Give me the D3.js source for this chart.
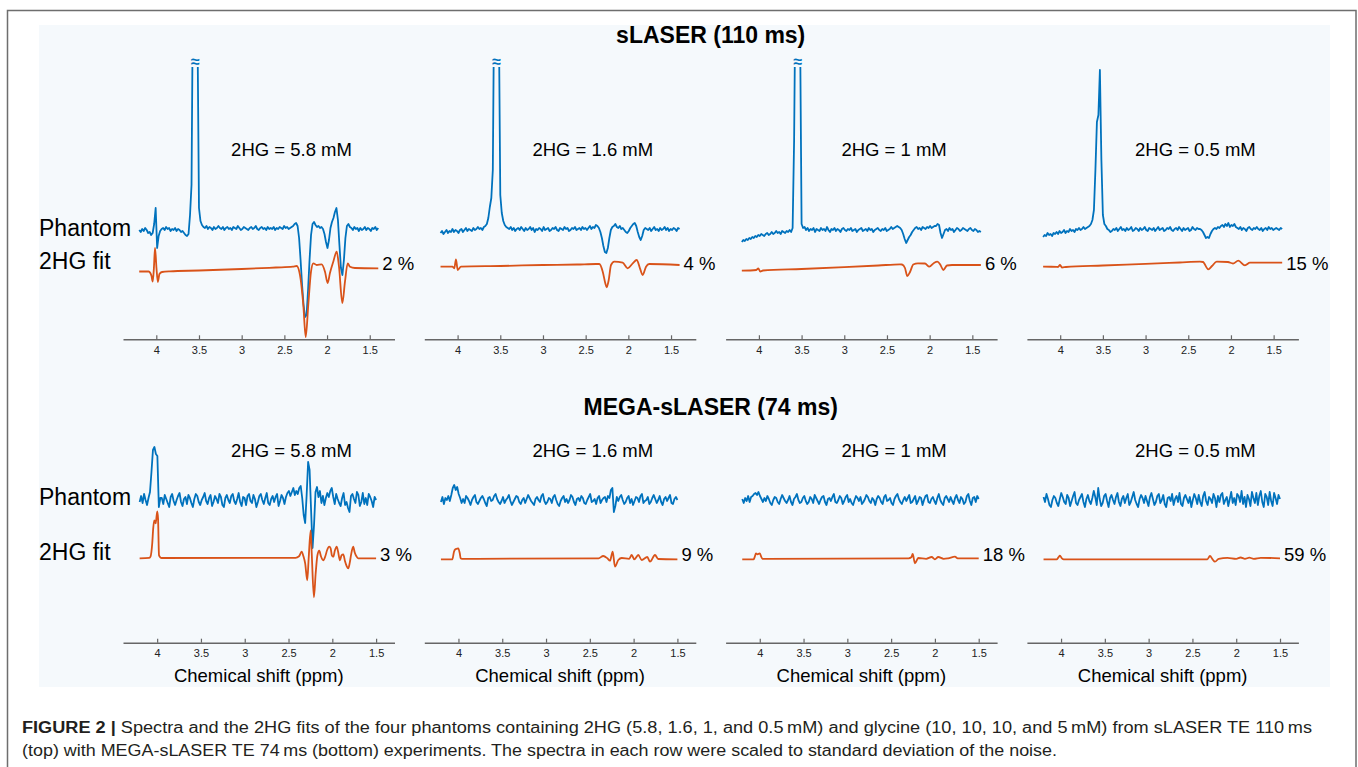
<!DOCTYPE html>
<html><head><meta charset="utf-8">
<script src="https://cdn.jsdelivr.net/npm/d3@7"></script>
<style>
html,body{margin:0;padding:0;background:#fff;}
svg{display:block;font-family:"Liberation Sans",Arial,Helvetica,sans-serif;}
</style></head><body>
<svg id="chart" width="1358" height="767"></svg>
<script>
// ---------------- DATA ----------------
const rowTitles = ["sLASER (110 ms)", "MEGA-sLASER (74 ms)"];
const concLabels = ["2HG = 5.8 mM", "2HG = 1.6 mM", "2HG = 1 mM", "2HG = 0.5 mM"];
const crlbTop = ["2 %", "4 %", "6 %", "15 %"];
const crlbBottom = ["3 %", "9 %", "18 %", "59 %"];
const tickValues = [4, 3.5, 3, 2.5, 2, 1.5];
const traceLabels = ["Phantom", "2HG fit"];
const xTitle = "Chemical shift (ppm)";
const captionBold = "FIGURE 2 |";
const captionLine1 = " Spectra and the 2HG fits of the four phantoms containing 2HG (5.8, 1.6, 1, and 0.5\u2009mM) and glycine (10, 10, 10, and 5\u2009mM) from sLASER TE 110\u2009ms";
const captionLine2 = "(top) with MEGA-sLASER TE 74\u2009ms (bottom) experiments. The spectra in each row were scaled to standard deviation of the noise.";

// sampled ppm range of the spectra (first, last sample)
const ppmRangeTop = [4.2, 1.4];
const ppmRangeBottom = [4.2, 1.5];

// Phantom spectra (a.u., evenly sampled over the ppm range)
const phantomTop1 = [0,-2,1,-1,2,0,-3,-2,-5,-3, 6,22,-18,-6,-1,1,
 2,0,3,1,2,-1,1,0,2,-1,1,0,-2,-1,-3,-5,-6,-4,
 15,45,250,320,300,200,22,9,5,
 3,2,4,1,3,2,0,3,1,2, 4,2,1,3,0,2,3,1,2,0, 3,2,1,4,2,0,1,3,2,1, 0,2,3,1,2,4,1,0,2,3, 1,2,0,3,1,2,1,3,0,2, 1,3,2,1,4,2,3,1,2,3, 4,
 6,7,4,-8,-30,-55,-75,-87,-85,-60, -30,-5,6,8,5,3,4,2,3,1, -4,-12,-18,-10,2,8,12,18,22,10, -15,-38,-45,-30,-8,4,6,3,
 2,0,3,1,2,-1,2,0,1,3,0,2,1,-1,2,1,3,0,2];
const phantomTop2 = [-3,-1,-4,-2,0,-3,-1,-2,1,-2, 0,-1,-3,0,1,-2,0,2,-1,1, 0,-1,2,0,1,3,1,2,0,3,
 4,6,12,23,32,60,250,320,300,220,35,17,9,5,3,2,
 1,3,0,2,-1,1,2,0,3,1, -1,2,0,1,3,0,2,-2,1,0, 2,1,-1,3,0,1,2,-1,0,2, 1,3,0,-1,2,1,0,3,1,2, -1,0,2,1,3,0,1,2,0,3, 1,2,0,2,4,1,3,2,
 5,4,2,-2,-8,-16,-22,-23,-18,-8, 0,3,4,6,3,2,4,1,2,0, -2,-3,-1,2,4,6,7,4,-2,-7, -10,-6,0,2,
 1,0,2,-1,1,3,0,1,-1,2,0,1,3,0,2,-1,1,0,2,1,-1,2,1];
const phantomTop3 = [-12,-10,-11,-9,-10,-8,-9,-7,-8,-6, -7,-5,-6,-4,-5,-6,-4,-3,-5,-4, -2,-4,-3,-1,-3,-2,-4,-1,-2,-3, -1,-2,0,-2,
 2,90,260,330,310,200,6,2,3,
 0,2,-1,1,0,2,-2,1,0,-1, 2,0,1,-1,3,0,-2,1,0,2, -1,1,0,-2,1,2,0,-1,1,0, 2,-1,0,1,-2,0,1,2,-1,0, 1,-1,2,0,1,-2,0,1,2,0, -1,1,0,2,-1,0,1,3,1,2, 3,4,3,
 2,0,-4,-9,-13,-10,-7,-5,-2,0, 2,3,1,2,0,3,2,1,3,2, 4,2,3,4,4,6,5,-3,-8,-4, 0,
 1,-1,2,0,1,-2,0,2,1,-1, 0,2,1,0,-1,1,2,0,-1,1, 0,-2,-1,-2];
const phantomTop4 = [-7,-5,-6,-3,-5,-4,-6,-3,-4,-2, -4,-1,-3,-2,0,-3,-1,-2,1,-1, 0,-2,1,0,2,0,1,3,1,2, 3,
 4,6,10,20,60,108,115,160,70,15,6,4,1,0,-2,
 -1,1,0,2,-1,1,3,0,1,-1, 2,0,1,3,-1,0,2,1,-1,2, 0,1,3,0,-1,2,1,0,2,-1, 1,3,0,1,2,-1,0,2,1,3, 0,-1,1,2,0,3,1,-1,2,0, 1,2,-1,0,3,1,0,2,1,
 1,0,-2,-5,-8,-7,-8,-4,-1,1,
 2,1,3,2,4,5,3,6,4,7,3,5,4,6,3,
 2,1,3,0,2,1,-1,2,3,1, 0,2,1,3,1,0,2,-1,1,2, 0,3,1,2,0,1,2,1,0,2, 1];
const phantomBottom1 = [-2,4,-3,6,0,-5,2,
 8,28,50,53,46,44,-7,2,
 2,-4,5,1,-3,-7,3,6,-1,-5, 0,4,7,-2,-6,1,3,-4,5,2, -3,-7,1,6,4,-2,-5,0,3,7, -1,-4,2,5,-6,-2,4,1,-3,6, 3,-5,-7,2,5,0,-3,4,6,-1,
 -4,1,7,-2,-6,3,2,-5,4,6, -1,-3,5,1,-7,-2,4,6,0,-4, 2,7,-3,-5,1,4,-2,3,6,-6, -1,5,2,-4,3,7,9,4,8,12,
 5,9,6,12,14,2,-15,-23,5,38,30,-10,-48,-25,8,13,3,9,-3,
 4,-5,2,7,3,9,12,3,-4,6, 1,-3,-6,2,7,-5,-2,-8,-12,4, 6,1,-3,8,5,-6,-2,7,-4,2, -5,6,3,-1,-7,3,0];
const phantomBottom2 = [-2,3,-4,2,0,4,-1,
 5,12,15,10,13,6,2,-3,
 1,-3,4,2,-1,-5,0,3,5,-2, -4,-1,2,4,1,-3,-6,2,3,-1, 0,4,6,1,-2,-4,-1,3,-3,0, 2,5,-1,-5,-2,1,4,3,-2,-4, 0,2,-3,1,5,2,-1,-3,-5,1,
 3,0,-2,4,6,-1,-4,-2,2,1, -3,3,5,0,-4,-6,-1,2,4,-2, 1,-3,0,5,3,-2,-5,1,2,-1, 4,2,-3,-4,0,3,6,-2,-1,1, -4,2,4,-3,0,2,
 3,-2,4,2,10,12,-12,-6,3,
 -1,3,5,0,-4,-2,2,4,-3,1, -5,-1,3,2,-2,4,6,-3,-1,0, 3,-4,-2,2,5,1,-3,0,4,-2, -5,1,3,-1,2,5,-3,-4,1,3, 0];
const phantomBottom3 = [1,-3,2,-1,4,-2,3,
 4,6,7,5,8,4,1,-2,
 2,-1,4,1,-3,-5,0,3,2,-2, -4,1,5,2,-1,-3,0,4,-2,-5, 1,3,6,0,-3,-2,2,4,-1,-4, -2,3,1,-3,5,2,-1,-4,0,3, 4,-2,-5,1,2,-1,3,6,-2,-3,
 0,4,2,-4,-1,3,5,-2,1,-3, -5,0,4,2,-1,3,-4,-2,1,5, 3,-1,-3,2,0,-5,1,4,2,-2, -4,3,5,-1,0,2,-3,-5,1,4, 6,1,-2,-4,0,3,-1,2,5,-3,
 -2,1,4,-4,-1,3,2,-5,0,4, 5,-2,-3,1,3,-1,-4,2,6,0, -3,-5,2,4,1,-2,3,-1,-4,2, 5,0,-3,3,1,-4,-2,4,6,-1, -5,2,3,-2,4,1];
const phantomBottom4 = [3,-2,6,1,-5,-7,0,4,2,-3, -6,1,7,3,-2,-4,5,2,-6,-1, 4,8,-3,-5,0,3,6,-2,-7,1, 5,-1,-4,2,9,3,-5,12,1,-6,
 -3,4,6,-1,-7,2,5,0,-4,3, 7,-2,-6,1,4,-3,2,6,-5,-2, 3,8,0,-4,-7,1,5,2,-3,4, -1,-6,3,7,1,-5,-2,4,6,-3,
 0,5,-4,-7,2,3,-1,6,-5,1, 4,-2,7,-4,-6,2,5,1,-3,3, -7,0,6,2,-4,5,-2,-6,4,8, -1,-5,3,1,-3,6,2,-7,4,-2,
 5,7,-4,0,3,-6,1,8,-3,2, -5,6,4,-2,9,-4,3,-7,5,1, -6,8,2,-3,7,-5,4,9,-2,-7, 6,3,-5,8,-1,-6,7,2,-4,5, 1];

// 2HG fits: [ppm, a.u.]
const fitTop1 = [[4.2,-3.5],[4.09,-3.5],[4.07,-5],[4.056,-8],[4.042,-13.5],[4.028,0],[4.015,20],[3.998,0],[3.982,-14],[3.963,-6],[3.933,-4],[3.84,-3.3],[3.5,-2.5],[3.0,-1],[2.6,0.5],[2.4,1.3],[2.356,2],[2.317,-7],[2.278,-37],[2.25,-69],[2.22,-37],[2.188,-3.7],[2.161,4.7],[2.121,3],[2.063,3.7],[2.024,-3.7],[1.993,-15],[1.966,-5],[1.927,6.3],[1.887,16.3],[1.86,1.3],[1.821,-35],[1.79,-13.7],[1.758,4.7],[1.731,1.3],[1.673,0],[1.4,-0.3]];
const fitTop2 = [[4.2,1.3],[4.06,1.3],[4.039,-0.3],[4.019,8.7],[3.999,-2],[3.96,1.3],[3.5,2],[3.0,3],[2.6,3.5],[2.379,4],[2.34,4],[2.3,-3.7],[2.27,-15.3],[2.254,-19.3],[2.23,-12],[2.203,3],[2.165,6.3],[2.066,5.3],[2.008,-0.3],[1.949,4.7],[1.902,8],[1.864,-0.3],[1.832,-7],[1.793,1.3],[1.755,4],[1.4,3]];
const fitTop3 = [[4.2,-2.7],[4.03,-2],[4.007,-0.3],[3.984,-3.7],[3.952,-2.5],[3.5,-1],[3.0,0.8],[2.6,2.5],[2.347,3.7],[2.324,3.5],[2.289,0],[2.262,-8],[2.23,-4],[2.192,3.5],[2.137,4.7],[2.055,4.5],[2.004,1.3],[1.949,5],[1.91,6.3],[1.873,3],[1.84,-2],[1.797,2.5],[1.738,3],[1.4,3]];
const fitTop4 = [[4.2,1.3],[4.04,1.2],[4.026,1],[4.002,3],[3.979,0.5],[3.932,1],[3.5,2.5],[3.0,4.2],[2.6,5.5],[2.363,6.3],[2.328,6],[2.266,-1.3],[2.222,2],[2.167,6.3],[2.035,6],[1.976,4.5],[1.914,7.3],[1.836,2.7],[1.777,5.3],[1.4,5.3]];
const fitBottom1 = [[4.2,0],[4.09,0.5],[4.075,2],[4.056,15],[4.045,30],[4.033,38],[4.017,35],[3.999,47],[3.99,40],[3.979,3],[3.965,1],[3.949,0.3],[2.42,0.5],[2.38,2],[2.35,6.6],[2.33,2],[2.31,-5],[2.286,-22],[2.27,0],[2.247,28],[2.235,5],[2.21,-39],[2.19,-15],[2.17,3],[2.149,7.6],[2.13,2],[2.103,-2],[2.08,2],[2.06,8],[2.035,11.6],[2.019,10],[2.005,3],[1.989,1.6],[1.97,8],[1.95,11.6],[1.935,7],[1.913,-2],[1.895,3],[1.875,4],[1.855,-3],[1.835,-8],[1.818,-10],[1.8,-4],[1.785,4],[1.761,11.6],[1.745,6],[1.725,2],[1.704,0],[1.6,0],[1.5,0]];
const fitBottom2 = [[4.2,-1],[4.07,-1],[4.051,6.6],[4.035,9],[4.02,9.5],[4.002,10],[3.985,5],[3.975,0],[3.96,-0.5],[2.4,0],[2.347,2.3],[2.3,0],[2.27,-2.4],[2.239,6.6],[2.213,-8.4],[2.175,-1.7],[2.136,0.3],[2.05,-0.5],[2.022,3.3],[1.993,-1],[1.947,3.3],[1.908,-1.7],[1.844,1.3],[1.813,-3.4],[1.756,3.3],[1.719,-0.7],[1.5,-1]];
const fitBottom3 = [[4.2,-1],[4.07,-1],[4.055,2],[4.043,5],[4.025,4],[4.0,5],[3.985,2],[3.97,-0.5],[2.3,0],[2.27,1],[2.254,4.3],[2.228,-5],[2.19,0.3],[2.1,-0.5],[2.037,1.3],[2.0,-1],[1.962,1.3],[1.9,-0.5],[1.85,0],[1.771,1.6],[1.74,0],[1.5,0]];
const fitBottom4 = [[4.2,-1],[4.05,-1],[4.03,1],[4.013,2.6],[3.99,0],[3.97,-1],[2.33,-1],[2.3,2.3],[2.27,-1],[2.243,-3.4],[2.2,-0.5],[2.1,0.5],[2.0,-0.5],[1.95,0.8],[1.9,-0.5],[1.85,0.6],[1.8,-0.5],[1.72,0.5],[1.5,0]];

// peak truncated (drawn with a break mark) in the top row
const truncatedTop = [true, true, true, false];
const truncPpm = 3.543;

// ---------------- DRAWING ----------------
const svg = d3.select("#chart");
const BLUE = "#0072BD", ORANGE = "#D95319";
const FONT = '"Liberation Sans", Arial, Helvetica, sans-serif';

svg.append("rect").attr("x", 7.5).attr("y", 10.5).attr("width", 1348.5).attr("height", 800)
  .attr("fill", "#fff").attr("stroke", "#6e6e6e").attr("stroke-width", 1.5);
svg.append("rect").attr("x", 39).attr("y", 25).attr("width", 1291).attr("height", 662)
  .attr("fill", "#f5f9fc");

const PANEL_STEP = 301.3, AXIS_X0 = 123, AXIS_W = 271.5;

const rows = [
  { title: rowTitles[0], titleY: 43, domain: [4.39, 1.21], range: ppmRangeTop,
    phantoms: [phantomTop1, phantomTop2, phantomTop3, phantomTop4],
    fits: [fitTop1, fitTop2, fitTop3, fitTop4], crlb: crlbTop,
    baseY: 268, offset: 38, axisY: 339.3, concY: 155.7,
    phantomLabelY: 235.7, fitLabelY: 269.3, crlbY: 270, clipTop: 67, xlabel: false },
  { title: rowTitles[1], titleY: 415, domain: [4.39, 1.29], range: ppmRangeBottom,
    phantoms: [phantomBottom1, phantomBottom2, phantomBottom3, phantomBottom4],
    fits: [fitBottom1, fitBottom2, fitBottom3, fitBottom4], crlb: crlbBottom,
    baseY: 558.3, offset: 58.3, axisY: 642.7, concY: 457.3,
    phantomLabelY: 505, fitLabelY: 560, crlbY: 561, clipTop: 380, xlabel: true, xlabelY: 681.7 }
];

const defs = svg.append("defs");

rows.forEach((row, r) => {
  svg.append("text").attr("x", 710.7).attr("y", row.titleY)
    .attr("text-anchor", "middle").attr("font-size", 23).attr("font-weight", "bold")
    .attr("fill", "#000").text(row.title);

  svg.append("text").attr("x", 39).attr("y", row.phantomLabelY)
    .attr("font-size", 23).attr("fill", "#000").text(traceLabels[0]);
  svg.append("text").attr("x", 39).attr("y", row.fitLabelY)
    .attr("font-size", 23).attr("fill", "#000").text(traceLabels[1]);

  const y = d3.scaleLinear().domain([0, 100]).range([row.baseY, row.baseY - 100]);

  for (let p = 0; p < 4; p++) {
    const x0 = AXIS_X0 + p * PANEL_STEP;
    const x = d3.scaleLinear().domain(row.domain).range([x0, x0 + AXIS_W]);
    const g = svg.append("g");

    const clipId = `clip-${r}-${p}`;
    defs.append("clipPath").attr("id", clipId).append("rect")
      .attr("x", x0).attr("y", row.clipTop).attr("width", AXIS_W).attr("height", row.axisY - row.clipTop);

    const vals = row.phantoms[p];
    const n = vals.length;
    const [s0, s1] = row.range;
    const phantomPts = vals.map((v, i) => [s0 + (s1 - s0) * i / (n - 1), v + row.offset]);

    const line = d3.line().x(d => x(d[0])).y(d => y(d[1]));
    const fitLine = d3.line().x(d => x(d[0])).y(d => y(d[1])).curve(d3.curveMonotoneX);

    g.append("path").attr("clip-path", `url(#${clipId})`).attr("d", line(phantomPts))
      .attr("fill", "none").attr("stroke", BLUE).attr("stroke-width", 1.8).attr("stroke-linejoin", "round");

    g.append("path").attr("d", fitLine(row.fits[p]))
      .attr("fill", "none").attr("stroke", ORANGE).attr("stroke-width", 1.8).attr("stroke-linejoin", "round");

    if (r === 0 && truncatedTop[p]) {
      g.append("text").attr("x", x(truncPpm)).attr("y", row.clipTop)
        .attr("text-anchor", "middle").attr("font-size", 16).attr("font-weight", "bold")
        .attr("fill", BLUE).text("\u2248");
    }

    const fitEnd = row.fits[p][row.fits[p].length - 1];
    g.append("text").attr("x", x(fitEnd[0]) + 4).attr("y", row.crlbY)
      .attr("font-size", 18.5).attr("fill", "#000").text(row.crlb[p]);

    g.append("text").attr("x", x0 + 168.5).attr("y", row.concY)
      .attr("text-anchor", "middle").attr("font-size", 18.5).attr("fill", "#000").text(concLabels[p]);

    const ax = g.append("g").attr("transform", `translate(0,${row.axisY})`)
      .call(d3.axisBottom(x).tickValues(tickValues).tickSizeInner(-4).tickSizeOuter(0)
        .tickPadding(7).tickFormat(d => String(d)));
    ax.select(".domain").attr("stroke", "#666").attr("stroke-width", 1.4);
    ax.selectAll(".tick line").attr("stroke", "#666").attr("stroke-width", 1.2);
    ax.selectAll(".tick text").attr("font-size", 11).attr("font-family", FONT).attr("fill", "#222");

    if (row.xlabel) {
      g.append("text").attr("x", x0 + AXIS_W / 2).attr("y", row.xlabelY)
        .attr("text-anchor", "middle").attr("font-size", 18.5).attr("fill", "#000").text(xTitle);
    }
  }
});

// caption
const cap1 = svg.append("text").attr("x", 22).attr("y", 733).attr("font-size", 16)
  .attr("fill", "#231f20").attr("font-family", '"Liberation Sans Narrow", "Liberation Sans", Arial, sans-serif')
  .attr("textLength", 1290).attr("lengthAdjust", "spacingAndGlyphs");
cap1.append("tspan").attr("font-weight", "bold").text(captionBold);
cap1.append("tspan").text(captionLine1);
svg.append("text").attr("x", 22).attr("y", 756).attr("font-size", 16)
  .attr("fill", "#231f20").attr("font-family", '"Liberation Sans Narrow", "Liberation Sans", Arial, sans-serif')
  .attr("textLength", 1035).attr("lengthAdjust", "spacingAndGlyphs").text(captionLine2);
</script>
</body></html>
